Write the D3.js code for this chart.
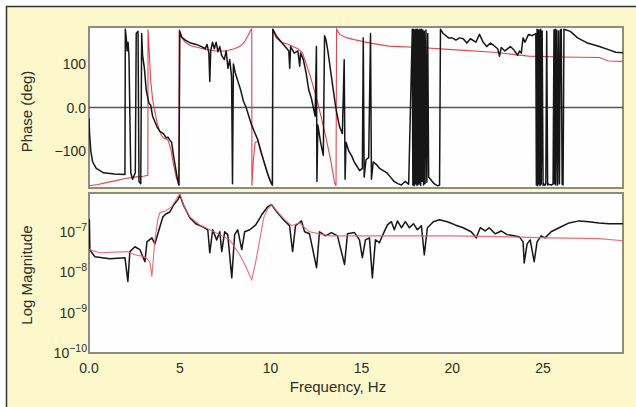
<!DOCTYPE html>
<html>
<head>
<meta charset="utf-8">
<script src="https://cdn.jsdelivr.net/npm/d3@7"></script>
<style>
  html, body { margin: 0; padding: 0; background: #fff; }
  svg { display: block; }
  text { font-family: "Liberation Sans", Arial, sans-serif; fill: #2e2e24; }
</style>
</head>
<body>
<div id="container"></div>
<script>
// frequency axis ticks
const freqTicks = [0, 5, 10, 15, 20, 25];
const freqTickLabels = ['0.0', '5', '10', '15', '20', '25'];
const phaseTicks = [100, 0, -100];
const phaseTickLabels = ['100', '0.0', '\u2212100'];
const magTicks = [-7, -8, -9, -10]; // log10 exponents

// measured phase, [Hz, deg]
const phaseMeasured = [
  [0, -25], [0.03, -60], [0.1, -100], [0.2, -125], [0.4, -140], [0.8, -150], [1.4, -153], [1.98, -154],
  [2.0, 180], [2.05, 160], [2.1, 130], [2.15, 150], [2.2, 120], [2.3, -150], [2.4, -165], [2.55, -150],
  [2.6, 170], [2.7, 175], [2.75, -170], [2.85, -175], [2.9, 170], [2.95, 120], [3.05, 90], [3.15, 40],
  [3.3, 10], [3.4, 5], [3.5, -20], [3.6, -30], [3.75, -45], [3.9, -55], [4.1, -60], [4.25, -70],
  [4.35, -68], [4.45, -75], [4.55, -80], [4.65, -110], [4.75, -135], [4.85, -160], [4.95, -178],
  [5.0, 175], [5.1, 162], [5.3, 155], [5.6, 148], [5.9, 145], [6.2, 140], [6.4, 135], [6.5, 145],
  [6.6, 125], [6.65, 60], [6.7, 130], [6.8, 150], [6.9, 135], [7.0, 150], [7.1, 128], [7.2, 140],
  [7.3, 120], [7.45, 110], [7.55, 130], [7.65, 90], [7.75, 110], [7.85, 70], [7.9, -175], [7.95, 100],
  [8.05, 80], [8.2, 60], [8.35, 40], [8.5, 15], [8.65, 0], [8.8, -20], [8.95, -40], [9.1, -55],
  [9.3, -75], [9.45, -100], [9.6, -120], [9.75, -140], [9.9, -160], [10.05, -175], [10.1, -178],
  [10.12, 180], [10.3, 165], [10.6, 150], [10.8, 140], [11.0, 130], [11.05, 90], [11.1, 140],
  [11.3, 125], [11.5, 130], [11.6, 95], [11.65, 125], [11.8, 110], [11.95, 80], [12.1, 40],
  [12.25, 20], [12.35, 0], [12.45, -20], [12.52, 140], [12.55, -170], [12.6, -40], [12.75, -80],
  [12.9, -110], [12.97, 165], [13.05, 155], [13.15, 130], [13.25, 100], [13.35, 70], [13.45, 40],
  [13.55, 10], [13.65, -15], [13.8, -45], [13.95, -60], [14.05, 110], [14.1, -165], [14.15, -80],
  [14.3, -100], [14.45, -110], [14.6, -125], [14.75, -135], [14.9, -145], [15.05, -140], [15.1, 160],
  [15.15, -160], [15.25, -120], [15.4, -115], [15.5, 170], [15.55, -165], [15.65, -125], [15.8, -130],
  [16.0, -140], [16.2, -145], [16.4, -150], [16.6, -160], [16.8, -170], [17.0, -175], [17.2, -178],
  [17.4, -170], [17.6, -176], [17.8, 180], [17.83, -178], [17.87, 180], [17.9, -180], [17.93, 178],
  [17.96, -175], [18.0, 180], [18.03, -178], [18.07, 180], [18.1, -178], [18.15, 178], [18.18, -176],
  [18.22, 180], [18.26, -179], [18.3, 180], [18.34, -170], [18.38, 178], [18.42, -178], [18.46, 175],
  [18.5, -175], [18.55, 178], [18.6, -172], [18.65, 170], [18.7, -160], [18.8, -165], [19.0, -175],
  [19.2, -180], [19.3, -178], [19.35, 180], [19.5, 170], [19.8, 160], [20.0, 160], [20.2, 155],
  [20.4, 160], [20.6, 158], [20.8, 148], [21.0, 158], [21.3, 150], [21.5, 168], [21.7, 150],
  [21.9, 140], [22.1, 148], [22.3, 142], [22.5, 135], [22.6, 118], [22.7, 138], [22.9, 130],
  [23.2, 140], [23.4, 132], [23.6, 120], [23.7, 130], [23.8, 125], [23.9, 160], [24.0, 150],
  [24.2, 168], [24.4, 165], [24.6, 170], [24.63, -178], [24.67, 180], [24.7, -180], [24.73, 178],
  [24.77, -176], [24.8, 178], [24.83, -180], [24.87, 180], [24.9, -176], [24.95, 176], [25.0, -179],
  [25.05, -176], [25.1, -179], [25.15, -175], [25.2, 175], [25.25, -178], [25.3, -176], [25.35, -177],
  [25.45, -178], [25.55, -176], [25.6, 178], [25.63, -175], [25.67, 180], [25.7, -178], [25.75, 178],
  [25.8, -178], [25.85, 176], [25.9, -175], [25.95, 178], [26.0, 180], [26.05, -176], [26.1, -178],
  [26.15, 180], [26.5, 175], [26.9, 160], [27.4, 149], [28.1, 140], [28.6, 133], [29.0, 127], [29.4, 126]
];

// model phase, [Hz, deg]
const phaseModel = [
  [0, -180], [0.5, -177], [1.0, -172], [1.5, -168], [2.0, -163], [2.5, -160], [3.0, -158], [3.24, -156],
  [3.25, 180], [3.3, 140], [3.35, 100], [3.4, 60], [3.5, 20], [3.6, -5], [3.75, -35], [3.9, -55],
  [4.0, -65], [4.1, -70], [4.2, -72], [4.35, -75], [4.5, -95], [4.65, -130], [4.8, -160], [4.95, -180],
  [4.96, 180], [5.02, 165], [5.3, 150], [5.6, 142], [6.0, 138], [6.5, 133], [7.0, 130], [7.5, 130],
  [8.0, 135], [8.3, 140], [8.55, 150], [8.75, 165], [8.9, 178], [8.96, 180], [8.97, -180],
  [9.05, -120], [9.15, -80], [9.3, -78], [9.45, -95], [9.6, -120], [9.8, -150], [10.0, -172],
  [10.1, -180], [10.11, 180], [10.3, 160], [10.6, 150], [11.0, 145], [11.5, 135], [11.76, 125],
  [12.2, 70], [12.6, 10], [13.0, -60], [13.3, -120], [13.52, -173], [13.6, -180], [13.63, 180],
  [13.8, 168], [14.2, 160], [14.6, 156], [15.5, 148], [16.5, 141], [18.2, 138], [20.0, 133],
  [22.3, 127], [24.2, 118], [26.0, 116], [28.1, 115], [28.6, 107], [29.4, 106]
];

// measured magnitude, [Hz, log10 magnitude]
const magMeasured = [
  [0, -7.3], [0.02, -6.7], [0.05, -7.45], [0.33, -7.62], [1.15, -7.67], [1.98, -7.64], [2.14, -8.23],
  [2.25, -7.49], [2.53, -7.37], [2.8, -7.44], [3.08, -7.74], [3.19, -7.25], [3.46, -7.15], [3.63, -7.3],
  [3.9, -6.88], [4.07, -6.63], [4.23, -6.56], [4.45, -6.51], [4.67, -6.33], [4.89, -6.21], [5.0, -6.09],
  [5.22, -6.36], [5.55, -6.65], [5.88, -6.8], [6.26, -6.88], [6.54, -6.95], [6.65, -7.52], [6.81, -6.95],
  [7.03, -7.2], [7.2, -7.0], [7.31, -7.49], [7.47, -7.0], [7.64, -7.07], [7.86, -8.14], [8.02, -7.07],
  [8.19, -6.95], [8.41, -7.44], [8.57, -7.0], [8.85, -6.95], [9.18, -6.83], [9.51, -6.58], [9.84, -6.38],
  [10.05, -6.33], [10.38, -6.53], [10.71, -6.7], [11.04, -6.85], [11.21, -7.49], [11.37, -6.85],
  [11.7, -6.73], [11.87, -7.0], [12.14, -7.05], [12.53, -7.89], [12.69, -7.0], [13.02, -7.1],
  [13.35, -7.02], [13.68, -7.1], [14.07, -7.81], [14.23, -7.05], [14.62, -7.02], [14.89, -7.2],
  [15.05, -7.64], [15.22, -7.2], [15.44, -7.15], [15.6, -8.14], [15.77, -7.2], [15.99, -7.27],
  [16.15, -7.1], [16.43, -6.83], [16.65, -6.75], [16.81, -6.95], [16.98, -6.73], [17.2, -6.9],
  [17.42, -6.75], [17.64, -6.9], [17.86, -6.8], [18.08, -6.95], [18.3, -6.85], [18.46, -7.57],
  [18.63, -6.9], [18.96, -6.75], [19.29, -6.7], [19.73, -6.75], [20.16, -6.83], [20.6, -6.9],
  [21.04, -7.0], [21.32, -7.15], [21.54, -6.9], [21.81, -6.98], [22.03, -6.9], [22.36, -7.05],
  [22.69, -6.98], [23.02, -7.07], [23.41, -7.1], [23.68, -7.12], [23.9, -7.25], [23.96, -7.77],
  [24.12, -7.3], [24.29, -7.2], [24.51, -7.74], [24.67, -7.25], [24.89, -7.1], [25.11, -7.15],
  [25.44, -7.0], [25.88, -6.9], [26.43, -6.78], [26.98, -6.73], [27.53, -6.75], [28.08, -6.78],
  [28.63, -6.8], [29.18, -6.8], [29.4, -6.8]
];

// model magnitude, [Hz, log10 magnitude]
const magModel = [
  [0, -7.44], [0.6, -7.52], [2.09, -7.49], [2.53, -7.57], [3.08, -7.62], [3.35, -7.74], [3.46, -8.11],
  [3.63, -7.2], [3.79, -6.7], [3.9, -6.53], [4.23, -6.48], [4.56, -6.38], [4.78, -6.21], [5.0, -6.06],
  [5.27, -6.41], [5.55, -6.63], [6.1, -6.83], [6.65, -6.95], [7.2, -7.07], [7.75, -7.2], [8.3, -7.57],
  [8.63, -7.86], [8.96, -8.19], [9.18, -7.74], [9.4, -7.2], [9.62, -6.65], [9.84, -6.43], [10.05, -6.33],
  [10.38, -6.51], [10.77, -6.7], [11.15, -6.85], [11.59, -6.78], [12.14, -7.0], [13.24, -7.1],
  [14.89, -7.1], [17.09, -7.1], [19.84, -7.1], [22.58, -7.12], [25.33, -7.15], [28.08, -7.17],
  [29.4, -7.22]
];

const width = 636, height = 407;
const left = 89, right = 623;
const phaseTop = 27, phaseBottom = 188;
const magTop = 193, magBottom = 353;

const svg = d3.select('#container')
  .append('svg')
  .attr('width', width)
  .attr('height', height);

// page background + frame lines
svg.append('rect')
  .attr('x', 6).attr('y', 6)
  .attr('width', width - 6).attr('height', height - 6)
  .attr('fill', '#fdf8cc');
svg.append('path')
  .attr('d', `M6.5,${height}V6.5H${width}`)
  .attr('fill', 'none')
  .attr('stroke', '#333')
  .attr('stroke-width', 1.5);

let xScale = d3.scaleLinear().domain([0, 29.4]).range([left, right]);
let yPhase = d3.scaleLinear().domain([-185, 185]).range([phaseBottom, phaseTop]);
let yMag = d3.scaleLog().domain([1e-10, Math.pow(10, -6.04)]).range([magBottom, magTop]);

// plot areas
[[phaseTop, phaseBottom], [magTop, magBottom]].forEach(([t, b]) => {
  svg.append('rect')
    .attr('x', left).attr('y', t)
    .attr('width', right - left).attr('height', b - t)
    .attr('fill', '#fefefe')
    .attr('stroke', '#8c8c80')
    .attr('stroke-width', 2);
});

// zero line in phase plot
svg.append('line')
  .attr('x1', left).attr('x2', right)
  .attr('y1', yPhase(0)).attr('y2', yPhase(0))
  .attr('stroke', '#555')
  .attr('stroke-width', 1.4);

// clip paths
svg.append('clipPath').attr('id', 'clipPhase')
  .append('rect').attr('x', left).attr('y', phaseTop)
  .attr('width', right - left).attr('height', phaseBottom - phaseTop);
svg.append('clipPath').attr('id', 'clipMag')
  .append('rect').attr('x', left).attr('y', magTop)
  .attr('width', right - left).attr('height', magBottom - magTop);

const phaseLine = d3.line()
  .x(d => xScale(d[0]))
  .y(d => yPhase(d[1]));
const magLine = d3.line()
  .x(d => xScale(d[0]))
  .y(d => yMag(Math.pow(10, d[1])));

const gPhase = svg.append('g').attr('clip-path', 'url(#clipPhase)');
gPhase.append('path')
  .attr('d', phaseLine(phaseModel))
  .attr('fill', 'none')
  .attr('stroke', '#e8434c')
  .attr('stroke-width', 1.1);
gPhase.append('path')
  .attr('d', phaseLine(phaseMeasured))
  .attr('fill', 'none')
  .attr('stroke', '#161616')
  .attr('stroke-width', 1.5)
  .attr('stroke-linejoin', 'round');

const gMag = svg.append('g').attr('clip-path', 'url(#clipMag)');
gMag.append('path')
  .attr('d', magLine(magMeasured))
  .attr('fill', 'none')
  .attr('stroke', '#161616')
  .attr('stroke-width', 1.5)
  .attr('stroke-linejoin', 'round');
gMag.append('path')
  .attr('d', magLine(magModel))
  .attr('fill', 'none')
  .attr('stroke', '#ee5a68')
  .attr('stroke-width', 1.1)
  .attr('stroke-opacity', 0.9);

// phase tick labels
svg.selectAll('.ptick')
  .data(phaseTicks)
  .enter()
  .append('text')
  .attr('x', 86)
  .attr('y', d => yPhase(d) + 5)
  .attr('text-anchor', 'end')
  .attr('font-size', 14)
  .text((d, i) => phaseTickLabels[i]);

// magnitude tick labels, 10 with superscript
let mt = svg.selectAll('.mtick')
  .data(magTicks)
  .enter()
  .append('text')
  .attr('x', 87)
  .attr('y', d => yMag(Math.pow(10, d)) + 5)
  .attr('text-anchor', 'end')
  .attr('font-size', 14);
mt.append('tspan').text('10');
mt.append('tspan')
  .attr('dy', -6)
  .attr('font-size', 10.5)
  .text(d => '\u2212' + Math.abs(d));

// frequency tick labels
svg.selectAll('.xtick')
  .data(freqTicks)
  .enter()
  .append('text')
  .attr('x', d => xScale(d))
  .attr('y', 373)
  .attr('text-anchor', 'middle')
  .attr('font-size', 14)
  .text((d, i) => freqTickLabels[i]);

// axis titles
svg.append('text')
  .attr('transform', `translate(32,${(phaseTop + phaseBottom) / 2 + 4}) rotate(-90)`)
  .attr('text-anchor', 'middle')
  .attr('font-size', 15)
  .text('Phase (deg)');
svg.append('text')
  .attr('transform', `translate(32,${(magTop + magBottom) / 2 + 2}) rotate(-90)`)
  .attr('text-anchor', 'middle')
  .attr('font-size', 15)
  .text('Log Magnitude');
svg.append('text')
  .attr('x', 338)
  .attr('y', 392)
  .attr('text-anchor', 'middle')
  .attr('font-size', 15)
  .text('Frequency, Hz');
</script>
</body>
</html>
